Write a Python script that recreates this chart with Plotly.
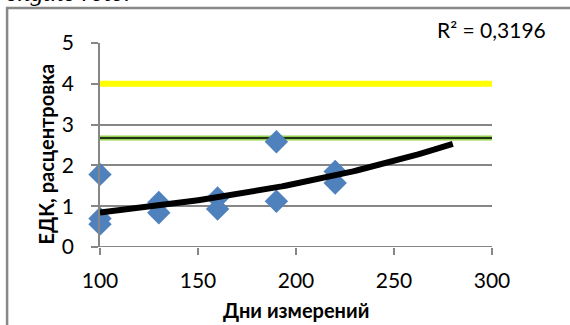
import numpy as np
import plotly.graph_objects as go

days = [100, 100, 100, 130, 130, 160, 160, 190, 190, 220, 220]
edk = [1.78, 0.70, 0.56, 1.09, 0.84, 1.20, 0.93, 2.58, 1.12, 1.85, 1.57]
yellow_level = 4.0
green_level = 2.67
forecast_forward = 60
r2_text = "R² = 0,3196"
x_title = "Дни измерений"
y_title = "ЕДК, расцентровка"
top_text = "engine rotor"

x_arr = np.array(days, dtype=float)
y_arr = np.array(edk, dtype=float)
b, ln_a = np.polyfit(x_arr, np.log(y_arr), 1)
tx = np.linspace(x_arr.min(), x_arr.max() + forecast_forward, 100)
ty = np.exp(ln_a) * np.exp(b * tx)

fig = go.Figure()
fig.add_trace(go.Scatter(x=[100, 300], y=[yellow_level, yellow_level], mode="lines",
                         line=dict(color="#FFFF00", width=6), hoverinfo="skip", cliponaxis=False))
fig.add_trace(go.Scatter(x=[100, 300], y=[green_level, green_level], mode="lines",
                         line=dict(color="#92D050", width=5), hoverinfo="skip", cliponaxis=False))
fig.add_trace(go.Scatter(x=[100, 300], y=[green_level, green_level], mode="lines",
                         line=dict(color="#000000", width=1.5), hoverinfo="skip", cliponaxis=False))
fig.add_trace(go.Scatter(x=days, y=edk, mode="markers", cliponaxis=False,
                         marker=dict(symbol="diamond", size=18, color="#4F81BD"), hoverinfo="skip"))
fig.add_trace(go.Scatter(x=tx, y=ty, mode="lines", cliponaxis=False,
                         line=dict(color="#000000", width=6), hoverinfo="skip"))

font_family = "Lato, 'Open Sans', sans-serif"
fig.update_layout(
    width=570, height=325,
    margin=dict(l=100, r=78, t=43, b=78, autoexpand=False),
    paper_bgcolor="white", plot_bgcolor="white",
    showlegend=False,
    font=dict(family=font_family, size=21, color="#000000"),
    xaxis=dict(range=[100, 300], tickvals=[100, 150, 200, 250, 300],
               showgrid=False, zeroline=False, showline=False, automargin=False,
               ticks="outside", ticklen=7, tickcolor="#868686", tickwidth=1.5,
               ticklabelstandoff=8,
               tickfont=dict(size=21, color="#000000")),
    yaxis=dict(range=[0, 5], tickvals=[0, 1, 2, 3, 4, 5], automargin=False,
               showgrid=True, gridcolor="#868686", gridwidth=1.8,
               zeroline=False, showline=True, linecolor="#868686", linewidth=1.8,
               ticks="outside", ticklen=7, tickcolor="#868686", tickwidth=1.5,
               ticklabelstandoff=13,
               tickfont=dict(size=21, color="#000000")),
)
fig.add_shape(type="line", xref="x", yref="y", x0=100, x1=300, y0=0, y1=0,
              line=dict(color="#868686", width=1.8), layer="below")
fig.add_shape(type="rect", xref="paper", yref="paper", x0=-0.237, x1=1.4, y0=-0.6, y1=1.172,
              line=dict(color="#888888", width=2.5), layer="below")
fig.add_annotation(xref="paper", yref="paper", x=-0.139, y=0.456, textangle=-90,
                   xanchor="center", yanchor="middle",
                   text="<b>" + y_title + "</b>", showarrow=False,
                   font=dict(size=20, color="#000000"))
fig.add_annotation(xref="paper", yref="paper", x=0.499, y=-0.309,
                   xanchor="center", yanchor="middle",
                   text="<b>" + x_title + "</b>", showarrow=False,
                   font=dict(size=20, color="#000000"))
fig.add_annotation(xref="paper", yref="paper", x=1.143, y=1.064, xanchor="right", yanchor="middle",
                   text=r2_text, showarrow=False, font=dict(size=21, color="#000000"))
fig.add_annotation(xref="paper", yref="paper", x=-0.245, y=1.165, xanchor="left", yanchor="bottom",
                   text="<i>" + top_text + "</i>", showarrow=False,
                   font=dict(size=26, family="'Liberation Serif', serif", color="#000000"))
fig.write_html("out.html", config={"displayModeBar": False},
               post_script="document.body.style.margin='0';")
